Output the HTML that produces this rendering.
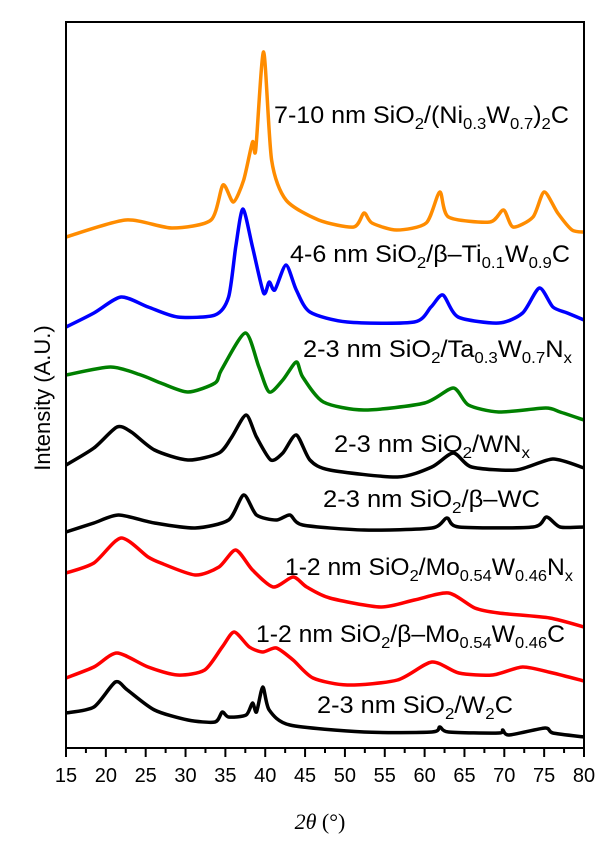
<!DOCTYPE html>
<html><head><meta charset="utf-8"><style>
html,body{margin:0;padding:0;background:#fff;}
svg{display:block;font-family:"Liberation Sans",Arial,sans-serif;}
</style></head><body>
<svg id="chart" width="600" height="844" viewBox="0 0 600 844" xmlns="http://www.w3.org/2000/svg">
<g id="series"></g>
<rect x="66" y="22" width="518" height="726" fill="none" stroke="#000" stroke-width="2"/>
<g id="ticks"></g>
<text x="320" y="829" font-size="22" text-anchor="middle" font-family="Liberation Serif,serif"><tspan font-style="italic">2θ</tspan> (°)</text>
<text transform="translate(50,398) rotate(-90)" font-size="22" text-anchor="middle">Intensity (A.U.)</text>
<g font-size="24" fill="#000">
<text x="274" y="123" textLength="295" lengthAdjust="spacingAndGlyphs">7-10 nm SiO<tspan font-size="16" dy="6">2</tspan><tspan dy="-6">/(Ni</tspan><tspan font-size="16" dy="6">0.3</tspan><tspan dy="-6">W</tspan><tspan font-size="16" dy="6">0.7</tspan><tspan dy="-6">)</tspan><tspan font-size="16" dy="6">2</tspan><tspan dy="-6">C</tspan></text>
<text x="290" y="262" textLength="280" lengthAdjust="spacingAndGlyphs">4-6 nm SiO<tspan font-size="16" dy="6">2</tspan><tspan dy="-6">/β–Ti</tspan><tspan font-size="16" dy="6">0.1</tspan><tspan dy="-6">W</tspan><tspan font-size="16" dy="6">0.9</tspan><tspan dy="-6">C</tspan></text>
<text x="303" y="357" textLength="269" lengthAdjust="spacingAndGlyphs">2-3 nm SiO<tspan font-size="16" dy="6">2</tspan><tspan dy="-6">/Ta</tspan><tspan font-size="16" dy="6">0.3</tspan><tspan dy="-6">W</tspan><tspan font-size="16" dy="6">0.7</tspan><tspan dy="-6">N</tspan><tspan font-size="16" dy="6">x</tspan></text>
<text x="334" y="452" textLength="196" lengthAdjust="spacingAndGlyphs">2-3 nm SiO<tspan font-size="16" dy="6">2</tspan><tspan dy="-6">/WN</tspan><tspan font-size="16" dy="6">x</tspan></text>
<text x="323" y="507" textLength="217" lengthAdjust="spacingAndGlyphs">2-3 nm SiO<tspan font-size="16" dy="6">2</tspan><tspan dy="-6">/β–WC</tspan></text>
<text x="285" y="575" textLength="288" lengthAdjust="spacingAndGlyphs">1-2 nm SiO<tspan font-size="16" dy="6">2</tspan><tspan dy="-6">/Mo</tspan><tspan font-size="16" dy="6">0.54</tspan><tspan dy="-6">W</tspan><tspan font-size="16" dy="6">0.46</tspan><tspan dy="-6">N</tspan><tspan font-size="16" dy="6">x</tspan></text>
<text x="256" y="642" textLength="309" lengthAdjust="spacingAndGlyphs">1-2 nm SiO<tspan font-size="16" dy="6">2</tspan><tspan dy="-6">/β–Mo</tspan><tspan font-size="16" dy="6">0.54</tspan><tspan dy="-6">W</tspan><tspan font-size="16" dy="6">0.46</tspan><tspan dy="-6">C</tspan></text>
<text x="317" y="713" textLength="196" lengthAdjust="spacingAndGlyphs">2-3 nm SiO<tspan font-size="16" dy="6">2</tspan><tspan dy="-6">/W</tspan><tspan font-size="16" dy="6">2</tspan><tspan dy="-6">C</tspan></text>
</g>
</svg>
<script>
const xTicks = [15,20,25,30,35,40,45,50,55,60,65,70,75,80];
const niDeg = [15,22.5,28.3,33.2,34.7,36,37.3,38.4,38.8,39.8,40.8,42.6,46.7,51.1,52.4,53.4,56.5,60.2,61.9,63,68.2,69.9,71.1,73.6,75,76.7,78.5,80];
const niVal = [511,528,520,528,563,546,568,606,598,696,588,548,528,521,535,525,518,525,556,531,526,538,521,531,556,535,518,516];
const tiDeg = [15,18.5,21.9,25.3,29,33.7,35.4,36.3,37.2,38.4,39.8,40.5,41.2,42.6,43.9,45.6,50.3,58.7,60.8,62.3,64.2,69.3,72.3,74.4,76.1,77.9,80];
const tiVal = [421,435,451,441,431,433,451,501,539,501,455,466,458,483,458,436,426,426,441,453,431,425,435,460,441,435,428];
const taDeg = [15,20.6,24.4,26.9,30.3,33.7,34.5,37.5,39.2,40.5,42.2,43.9,44.7,47.3,52.4,60,63.6,65.5,69.3,75.2,77,80];
const taVal = [373,381,373,365,356,365,378,415,381,356,368,386,371,346,338,345,360,343,336,340,336,328];
const wnDeg = [15,18.5,21.4,23.2,26.1,30.3,34.2,35.8,37.6,38.9,40.7,42.2,43.9,45.6,48.1,56.6,60.9,63.6,65.9,71.5,76.1,80];
const wnVal = [283,300,321,316,298,288,295,311,333,311,288,295,313,288,278,271,281,295,281,278,289,280];
const wcDeg = [15,18.5,21.6,26.1,31.2,35.4,37.3,38.9,41.4,43.1,44.7,52.4,60.9,62.8,64.3,73.6,75.3,77,80];
const wcVal = [216,225,233,225,220,228,253,233,228,233,223,218,220,230,221,221,231,221,221];
const monDeg = [15,18.5,21.9,25.3,26.9,31.2,34.2,36.3,38.4,41,43.5,45.2,48.1,54.5,58.7,63,66.3,69.3,75.7,80];
const monVal = [175,185,210,191,185,173,181,198,178,161,171,161,150,141,148,155,140,135,130,121];
const mocDeg = [15,18.5,21.4,25.3,29,32.4,34.6,36.1,38,39.7,41.4,43.5,46,50.3,56.6,60.9,64.3,68.5,72.3,76.1,80];
const mocVal = [70,81,95,81,73,78,101,116,101,96,100,88,70,63,68,86,75,73,81,75,67];
const w2cDeg = [15,18.5,21.2,22.7,26.1,30.3,33.7,34.6,35.4,37.6,38.4,38.9,39.7,40.5,43.1,52.4,60.9,61.9,63,69.3,69.8,70.6,75.1,76.1,80];
const w2cVal = [35,41,66,58,38,28,26,36,31,33,45,36,61,38,23,16,16,21,16,15,18,13,20,15,11];

const X0=66,X1=584,Y0=748;
function xs(d){return X0+(d-15)*(X1-X0)/65;}
function ys(v){return Y0-v;}
const NS='http://www.w3.org/2000/svg';
function pathFrom(deg,val){
  const p=deg.map((d,i)=>[xs(d),ys(val[i])]);
  let s='M'+p[0][0].toFixed(1)+' '+p[0][1].toFixed(1);
  for(let i=0;i<p.length-1;i++){
    const a=p[i-1]||p[i],b=p[i],c=p[i+1],e=p[i+2]||c;
    const c1=[b[0]+(c[0]-a[0])/8,b[1]+(c[1]-a[1])/8];
    const c2=[c[0]-(e[0]-b[0])/8,c[1]-(e[1]-b[1])/8];
    s+=' C'+c1[0].toFixed(1)+' '+c1[1].toFixed(1)+' '+c2[0].toFixed(1)+' '+c2[1].toFixed(1)+' '+c[0].toFixed(1)+' '+c[1].toFixed(1);
  }
  return s;
}
const g=document.getElementById('series');
function addSeries(deg,val,color,name){
  const el=document.createElementNS(NS,'path');
  el.setAttribute('d',pathFrom(deg,val));
  el.setAttribute('fill','none');
  el.setAttribute('stroke',color);
  el.setAttribute('stroke-width','3.5');
  el.setAttribute('stroke-linejoin','round');
  
  
  g.appendChild(el);
}
addSeries(niDeg,niVal,'#FF8C00','series-ni-w-c');
addSeries(tiDeg,tiVal,'#0000FF','series-ti-w-c');
addSeries(taDeg,taVal,'#008000','series-ta-w-n');
addSeries(wnDeg,wnVal,'#000000','series-wn');
addSeries(wcDeg,wcVal,'#000000','series-wc');
addSeries(monDeg,monVal,'#FF0000','series-mo-w-n');
addSeries(mocDeg,mocVal,'#FF0000','series-mo-w-c');
addSeries(w2cDeg,w2cVal,'#000000','series-w2c');

const tg=document.getElementById('ticks');
for(let d=15;d<=80;d+=2.5){
  const major=(d%5===0);
  const t=document.createElementNS(NS,'line');
  t.setAttribute('x1',xs(d));t.setAttribute('x2',xs(d));
  t.setAttribute('y1',Y0);t.setAttribute('y2',Y0+(major?9:5));
  t.setAttribute('stroke','#000');t.setAttribute('stroke-width','2');
  
  
  tg.appendChild(t);
}
xTicks.forEach(d=>{
  const t=document.createElementNS(NS,'text');
  t.setAttribute('x',xs(d));t.setAttribute('y',782);
  t.setAttribute('font-size','20');t.setAttribute('text-anchor','middle');
  t.textContent=String(d);
  
  
  tg.appendChild(t);
});
</script>
</body></html>
